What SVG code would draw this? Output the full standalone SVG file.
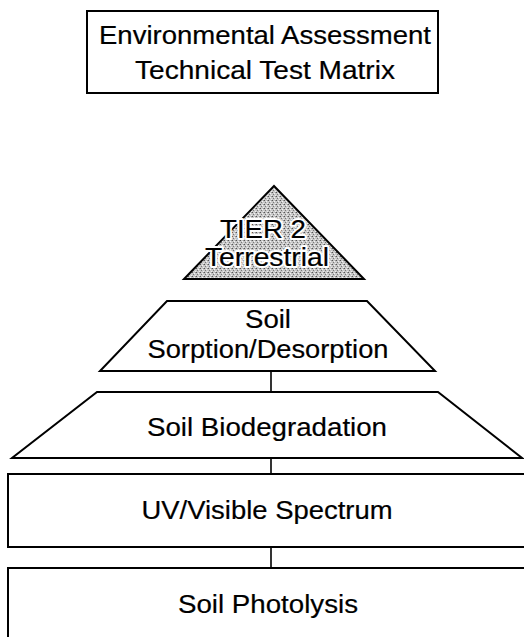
<svg xmlns="http://www.w3.org/2000/svg" width="524" height="637" viewBox="0 0 524 637">
<style>
.shape{fill:#fff;stroke:#000;stroke-width:2;stroke-linejoin:miter}
.lbl{font-family:"Liberation Sans",Arial,Helvetica,sans-serif;font-size:26px;fill:#000;stroke:#000;stroke-width:0.2;text-anchor:middle}
.halo{font-family:"Liberation Sans",Arial,Helvetica,sans-serif;font-size:26px;fill:#fff;stroke:#fff;stroke-width:4;stroke-linejoin:round;text-anchor:middle}
.conn{stroke:#000;stroke-width:1.6;fill:none}
</style>
<defs>
<pattern id="dots" width="4" height="4" patternUnits="userSpaceOnUse">
<rect width="4" height="4" fill="#c8c8c8"/>
<rect x="0" y="0" width="1" height="1" fill="#555"/>
<rect x="2" y="1" width="1" height="1" fill="#f4f4f4"/>
<rect x="1" y="2" width="1" height="1" fill="#777"/>
<rect x="3" y="3" width="1" height="1" fill="#eee"/>
<rect x="3" y="0" width="1" height="1" fill="#999"/>
</pattern>
</defs>
<rect width="524" height="637" fill="#fff"/>
<g id="title">
<rect class="shape" x="87" y="11" width="351" height="82"/>
<text class="lbl" x="265" y="44" textLength="332" lengthAdjust="spacingAndGlyphs">Environmental Assessment</text>
<text class="lbl" x="265" y="79" textLength="260" lengthAdjust="spacingAndGlyphs">Technical Test Matrix</text>
</g>
<g id="tier2">
<polygon points="274,186 184,279 364,279" fill="url(#dots)" stroke="#000" stroke-width="2"/>
<text class="halo" x="263" y="238" textLength="86" lengthAdjust="spacingAndGlyphs">TIER 2</text>
<text class="halo" x="267" y="266" textLength="124" lengthAdjust="spacingAndGlyphs">Terrestrial</text>
<text class="lbl" x="263" y="238" textLength="86" lengthAdjust="spacingAndGlyphs">TIER 2</text>
<text class="lbl" x="267" y="266" textLength="124" lengthAdjust="spacingAndGlyphs">Terrestrial</text>
</g>
<g id="sorption">
<polygon class="shape" points="167,301 367,301 435,371 100,371"/>
<text class="lbl" x="268" y="328" textLength="46" lengthAdjust="spacingAndGlyphs">Soil</text>
<text class="lbl" x="268" y="358" textLength="241" lengthAdjust="spacingAndGlyphs">Sorption/Desorption</text>
</g>
<g id="biodegradation">
<polygon class="shape" points="97,392 438,392 522,458 12,458"/>
<text class="lbl" x="267" y="436" textLength="240" lengthAdjust="spacingAndGlyphs">Soil Biodegradation</text>
</g>
<g id="uv">
<rect class="shape" x="8" y="474" width="530" height="73"/>
<text class="lbl" x="267" y="519" textLength="251" lengthAdjust="spacingAndGlyphs">UV/Visible Spectrum</text>
</g>
<g id="photolysis">
<rect class="shape" x="8" y="568" width="530" height="90"/>
<text class="lbl" x="268" y="613" textLength="180" lengthAdjust="spacingAndGlyphs">Soil Photolysis</text>
</g>
<g id="connectors">
<line class="conn" x1="271" y1="371" x2="271" y2="392"/>
<line class="conn" x1="271" y1="458" x2="271" y2="474"/>
<line class="conn" x1="271" y1="547" x2="271" y2="568"/>
</g>
</svg>
